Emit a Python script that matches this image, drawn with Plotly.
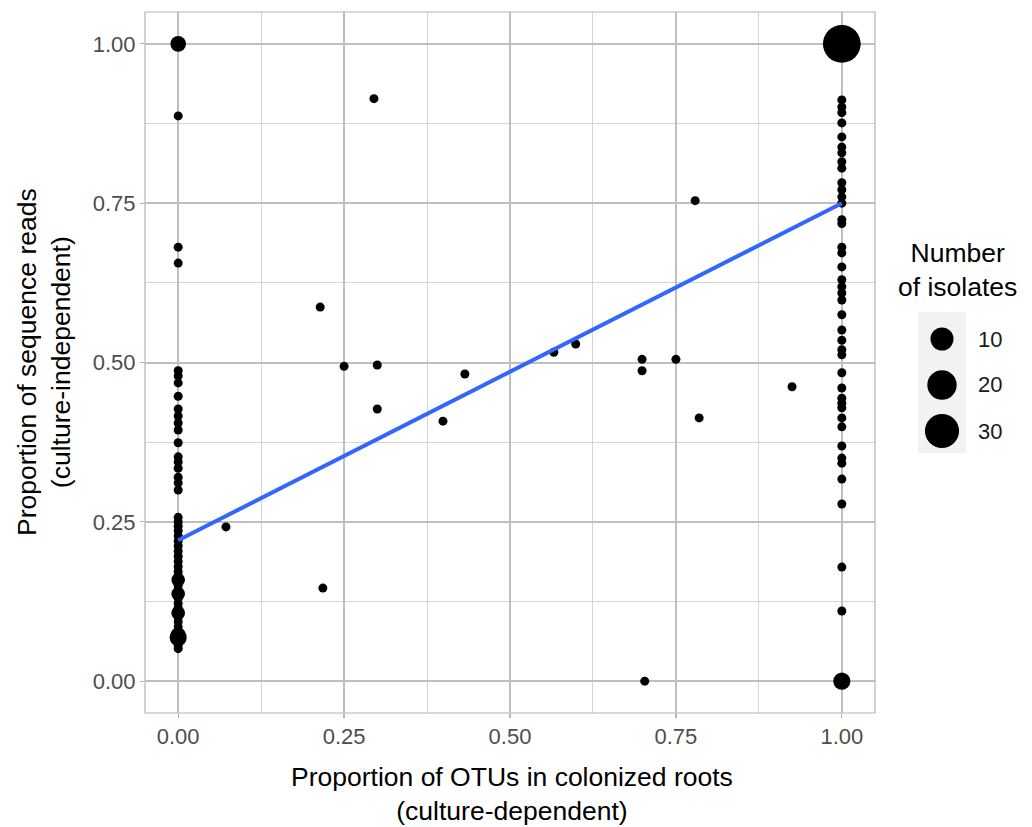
import numpy as np
import plotly.graph_objects as go

# ---------------- data ----------------
# OTUs never recovered in culture (culture-dependent proportion = 0)
left_reads = [1.000, 0.887, 0.681, 0.656,
              0.487, 0.479, 0.468, 0.447, 0.427, 0.416, 0.405, 0.394, 0.374,
              0.352, 0.344, 0.334, 0.320, 0.311, 0.300,
              0.257, 0.250, 0.243, 0.236, 0.228, 0.220, 0.212, 0.204, 0.196,
              0.188, 0.180, 0.172, 0.165, 0.159, 0.150, 0.143, 0.137, 0.130,
              0.122, 0.115, 0.107, 0.100, 0.093, 0.085, 0.078, 0.072, 0.068,
              0.062, 0.056, 0.051]
left_n = [3, 1, 1, 1,
          1, 1, 1, 1, 1, 1, 1, 1, 1,
          1, 1, 1, 1, 1, 1,
          1, 1, 1, 1, 1, 1, 1, 1, 1,
          1, 1, 1, 1, 2, 1, 1, 2, 1,
          1, 1, 2, 1, 1, 1, 1, 3, 4,
          1, 1, 1]

# OTUs found in all colonized roots (culture-dependent proportion = 1)
right_reads = [1.000, 0.912, 0.901, 0.892, 0.876, 0.854, 0.838, 0.829, 0.815,
               0.805, 0.782, 0.771, 0.760, 0.750, 0.724, 0.718, 0.681, 0.672,
               0.650, 0.630, 0.619, 0.609, 0.598, 0.575, 0.551, 0.535, 0.520,
               0.512, 0.484, 0.460, 0.444, 0.436, 0.429, 0.413, 0.399, 0.369,
               0.350, 0.342, 0.317, 0.278, 0.179, 0.110, 0.000]
right_n = [39, 1, 1, 1, 1, 1, 1, 1, 1,
           1, 1, 1, 1, 1, 1, 1, 1, 1,
           1, 1, 1, 1, 1, 1, 1, 1, 1,
           1, 1, 1, 1, 1, 1, 1, 1, 1,
           1, 1, 1, 1, 1, 1, 4]

# OTUs with intermediate culture-dependent proportions
mid_otu = [0.072, 0.218, 0.214, 0.250, 0.295, 0.300, 0.300, 0.399, 0.432,
           0.566, 0.599, 0.699, 0.699, 0.703, 0.750, 0.779, 0.785, 0.925]
mid_reads = [0.242, 0.146, 0.587, 0.494, 0.914, 0.496, 0.427, 0.408, 0.482,
             0.516, 0.529, 0.505, 0.487, 0.000, 0.505, 0.754, 0.413, 0.462]
mid_n = [1] * len(mid_otu)

# linear fit (geom_smooth, method = "lm")
smooth_x = [0.0, 1.0]
smooth_y = [0.221, 0.750]

legend_values = [10, 20, 30]
x_ticks = [0.00, 0.25, 0.50, 0.75, 1.00]
y_ticks = [0.00, 0.25, 0.50, 0.75, 1.00]
tick_labels = ["0.00", "0.25", "0.50", "0.75", "1.00"]

# ---------------- assemble ----------------
otu = [0.0 for _ in left_reads] + [1.0 for _ in right_reads] + mid_otu
reads = left_reads + right_reads + mid_reads
n_iso = left_n + right_n + mid_n


def diam(n):
    return 9 + 4.67 * np.sqrt(np.asarray(n, dtype=float) - 1)


W, H = 1032, 827
# panel box, in page pixels
L, R, T, B = 145, 875, 12, 713


def px(xp):
    return (xp - L) / (R - L)


def py(yp):
    return (B - yp) / (B - T)


FONT = "Liberation Sans, Arial, sans-serif"

fig = go.Figure()
fig.add_trace(go.Scatter(
    x=otu, y=reads, mode="markers",
    marker=dict(size=diam(n_iso), sizemode="diameter", color="black",
                line=dict(width=0), opacity=1),
    showlegend=False, hoverinfo="skip"))
fig.add_trace(go.Scatter(
    x=smooth_x, y=smooth_y, mode="lines",
    line=dict(color="#3366FF", width=4), showlegend=False))

grid_major = "#bfbfbf"
grid_minor = "#d4d4d4"
axis_common = dict(
    showgrid=True, gridcolor=grid_major, gridwidth=2,
    zeroline=False, showline=False,
    ticks="outside", ticklen=4, tickcolor="#b3b3b3", tickwidth=1.2,
    tickfont=dict(family=FONT, size=22, color="#4d4d4d"),
    minor=dict(showgrid=True, gridcolor=grid_minor, gridwidth=1,
               dtick=0.125, tick0=0.125),
    fixedrange=True,
)
fig.update_xaxes(range=[-0.05, 1.05], tickvals=x_ticks, ticktext=tick_labels,
                 **axis_common)
fig.update_yaxes(range=[-0.05, 1.05], tickvals=y_ticks, ticktext=tick_labels,
                 **axis_common)

shapes = [dict(type="rect", xref="paper", yref="paper", x0=0, x1=1, y0=0, y1=1,
               line=dict(color="#b3b3b3", width=1.2), fillcolor="rgba(0,0,0,0)",
               layer="above")]
# size legend
shapes.append(dict(type="rect", xref="paper", yref="paper",
                   x0=px(918), x1=px(966), y0=py(453), y1=py(312),
                   line=dict(width=0), fillcolor="#f2f2f2", layer="below"))
key_y = [339, 385, 431]
annotations = []
for v, ky in zip(legend_values, key_y):
    r = float(diam(v)) / 2
    shapes.append(dict(type="circle", xref="paper", yref="paper",
                       xsizemode="pixel", ysizemode="pixel",
                       xanchor=px(942), yanchor=py(ky),
                       x0=-r, x1=r, y0=-r, y1=r,
                       fillcolor="black", line=dict(width=0)))
    annotations.append(dict(xref="paper", yref="paper", x=px(976), y=py(ky),
                            text=str(v), showarrow=False, xanchor="left",
                            yanchor="middle",
                            font=dict(family=FONT, size=22, color="#1a1a1a")))

annotations.append(dict(xref="paper", yref="paper", x=px(957), y=py(270),
                        text="Number<br>of isolates", showarrow=False,
                        xanchor="center", yanchor="middle", align="center",
                        font=dict(family=FONT, size=26.5, color="black")))
annotations.append(dict(xref="paper", yref="paper", x=px(512), y=py(794),
                        text="Proportion of OTUs in colonized roots<br>(culture-dependent)",
                        showarrow=False, xanchor="center", yanchor="middle",
                        align="center",
                        font=dict(family=FONT, size=26.5, color="black")))
annotations.append(dict(xref="paper", yref="paper", x=px(44), y=py(362),
                        text="Proportion of sequence reads<br>(culture-independent)",
                        showarrow=False, xanchor="center", yanchor="middle",
                        align="center", textangle=-90,
                        font=dict(family=FONT, size=26.5, color="black")))

fig.update_layout(
    width=W, height=H,
    margin=dict(l=L, r=W - R, t=T, b=H - B, autoexpand=False),
    paper_bgcolor="white", plot_bgcolor="white",
    shapes=shapes, annotations=annotations,
    showlegend=False,
    font=dict(family=FONT),
)

fig.write_html(
    "out.html",
    config={"displayModeBar": False, "staticPlot": True},
    post_script="document.body.style.margin='0';"
                "document.body.style.overflow='hidden';",
)
